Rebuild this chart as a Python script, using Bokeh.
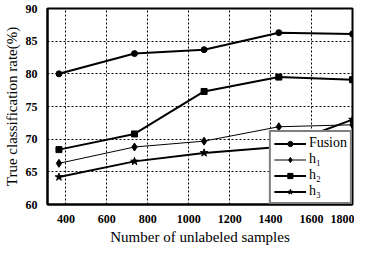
from bokeh.plotting import figure
from bokeh.embed import file_html
from bokeh.resources import INLINE
from bokeh.models import FixedTicker, Range1d

x_vals = [366, 735, 1075, 1440, 1800]
fusion = [80.0, 83.1, 83.7, 86.3, 86.1]
h1 = [66.3, 68.8, 69.7, 71.9, 72.2]
h2 = [68.4, 70.8, 77.3, 79.5, 79.1]
h3 = [64.2, 66.6, 67.9, 68.8, 73.0]
x_ticks = [400, 600, 800, 1000, 1200, 1400, 1600, 1800]
y_ticks = [60, 65, 70, 75, 80, 85, 90]

p = figure(width=354, height=247, output_backend="svg", toolbar_location=None,
           x_range=Range1d(310, 1800), y_range=Range1d(60, 90),
           min_border_left=46, min_border_right=2, min_border_top=8, min_border_bottom=40)
p.background_fill_color = "white"
p.border_fill_color = "white"
p.outline_line_color = "black"
p.outline_line_width = 2

serif = "Liberation Serif"
p.xaxis.axis_label = "Number of unlabeled samples"
p.yaxis.axis_label = "True classification rate(%)"
for ax in (p.xaxis, p.yaxis):
    ax.axis_label_text_font = serif
    ax.axis_label_text_font_style = "normal"
    ax.axis_label_text_font_size = "15px"
    ax.axis_label_text_color = "black"
    ax.major_label_text_font = serif
    ax.major_label_text_font_style = "bold"
    ax.major_label_text_font_size = "12px"
    ax.major_label_text_color = "black"
    ax.axis_line_color = "black"
    ax.axis_line_width = 2
    ax.major_tick_line_color = None
    ax.minor_tick_line_color = None
    ax.axis_label_standoff = 3
    ax.major_label_standoff = 4
p.xaxis.ticker = FixedTicker(ticks=x_ticks)
p.yaxis.ticker = FixedTicker(ticks=y_ticks)

for g in (p.xgrid, p.ygrid):
    g.grid_line_color = "black"
    g.grid_line_dash = "2 2"
    g.grid_line_width = 1
p.xgrid.ticker = FixedTicker(ticks=x_ticks)
p.ygrid.ticker = FixedTicker(ticks=y_ticks)

p.line(x_vals, fusion, line_color="black", line_width=2, legend_label="Fusion")
p.scatter(x_vals, fusion, marker="circle", size=6, color="black", legend_label="Fusion")

p.line(x_vals, h1, line_color="black", line_width=1, legend_label="h\u2081")
p.scatter(x_vals, h1, marker="diamond", size=8, color="black", legend_label="h\u2081")

p.line(x_vals, h2, line_color="black", line_width=2, legend_label="h\u2082")
p.scatter(x_vals, h2, marker="square", size=6, color="black", legend_label="h\u2082")

p.line(x_vals, h3, line_color="black", line_width=2, legend_label="h\u2083")
p.scatter(x_vals, h3, marker="star", size=8, color="black", legend_label="h\u2083")

lg = p.legend[0]
lg.location = "bottom_right"
lg.margin = 0
lg.padding = 3
lg.spacing = 0
lg.label_text_font = serif
lg.label_text_font_size = "14px"
lg.label_text_color = "black"
lg.label_height = 13
lg.glyph_height = 13
lg.glyph_width = 32
lg.label_standoff = 3
lg.border_line_color = "black"
lg.border_line_width = 2
lg.background_fill_color = "white"
lg.background_fill_alpha = 1.0

open("out.html", "w").write(file_html(p, INLINE))
